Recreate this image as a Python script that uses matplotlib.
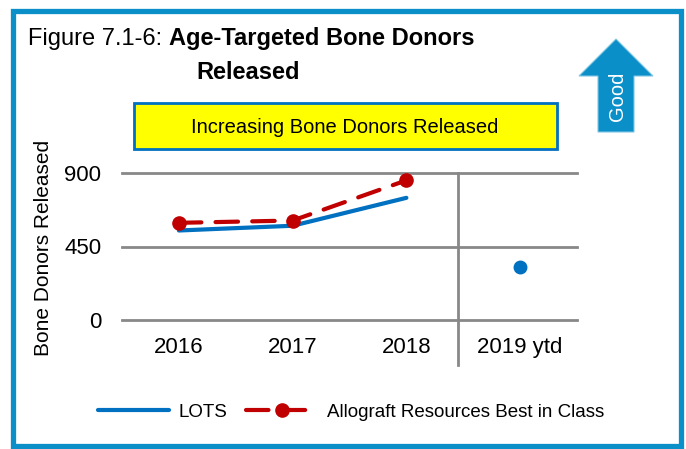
import matplotlib
matplotlib.use("Agg")
import matplotlib.pyplot as plt
from matplotlib.patches import Rectangle, Polygon
from matplotlib import font_manager

# font: narrow Arial look-alike if present
names = {f.name for f in font_manager.fontManager.ttflist}
NARROW = 'Liberation Sans Narrow' if 'Liberation Sans Narrow' in names else 'Liberation Sans'
plt.rcParams['font.family'] = [NARROW, 'DejaVu Sans']

W, H = 686, 449

# data
categories = ['2016', '2017', '2018', '2019 ytd']
lots_years = [0, 1, 2]
lots_values = [548, 577, 748]
lots_ytd = [327]
best_values = [595, 609, 855]

BLUE = '#0070C0'
RED = '#C00000'
FRAME = '#0A8FC8'
GRID = '#888888'


def fx(x):
    return x / W


def fy(y):
    return 1 - y / H


fig = plt.figure(figsize=(W / 100, H / 100), dpi=100)

# outer frame
fig.patches.append(Rectangle((fx(12.5), fy(445.5)), fx(668), 435 / H,
                             transform=fig.transFigure, fill=False, edgecolor=FRAME, lw=3.8))

ax = fig.add_axes([fx(122), fy(320), fx(455), (320 - 173) / H])

ax.plot(lots_years, lots_values, color=BLUE, lw=3.0, solid_capstyle='round', label='LOTS', zorder=3)
ax.plot([3], lots_ytd, 'o', color=BLUE, ms=9, zorder=3)
ax.plot(lots_years, best_values, color=RED, lw=3.0, dashes=(5.4, 3.4), dash_capstyle='round',
        marker='o', ms=9.5, label='Allograft Resources Best in Class', zorder=4)

ax.set_xlim(-0.5, 3.5)
ax.set_ylim(0, 900)
ax.set_yticks([0, 450, 900])
ax.set_xticks(range(len(categories)))
ax.set_xticklabels(categories)
ax.tick_params(axis='y', length=0, pad=15, labelsize=16)
ax.tick_params(axis='x', length=0, pad=12, labelsize=16)
for s in ax.spines.values():
    s.set_visible(False)
ax.grid(axis='y', color=GRID, lw=2.0)
ax.set_axisbelow(True)
for ln in ax.get_ygridlines():
    ln.set_clip_on(False)

# separator before ytd
ax.plot([2.45, 2.45], [1, -0.306], color=GRID, lw=2.0, transform=ax.get_xaxis_transform(),
        clip_on=False, zorder=1)

fig.text(fx(44), fy(248), 'Bone Donors Released', rotation=90, ha='center', va='center', fontsize=15)

# title
t1 = fig.text(fx(28), fy(45), 'Figure 7.1-6: ', fontsize=17, ha='left', va='baseline')
fig.canvas.draw()
bb = t1.get_window_extent()
fig.text(bb.x1 / W, fy(45), 'Age-Targeted Bone Donors', fontsize=17, fontweight='bold',
         ha='left', va='baseline')
fig.text(fx(248), fy(79), 'Released', fontsize=17, fontweight='bold', ha='center', va='baseline')

# yellow banner
fig.patches.append(Rectangle((fx(134), fy(149)), fx(557 - 134), (149 - 103) / H,
                             transform=fig.transFigure, facecolor='#FFFF00', edgecolor=BLUE, lw=2))
fig.text(fx(345), fy(127), 'Increasing Bone Donors Released', fontsize=14.5, ha='center', va='center')

# "Good" arrow
arrow = [(616, 39), (653, 76), (634, 76), (634, 132), (598, 132), (598, 76), (579, 76)]
fig.patches.append(Polygon([(fx(x), fy(y)) for x, y in arrow], closed=True,
                           transform=fig.transFigure, facecolor=FRAME, edgecolor='#7FC6E4', lw=0.8))
fig.text(fx(617), fy(96), 'Good', rotation=90, ha='center', va='center', color='white',
         fontsize=14.5, family=['Liberation Sans', 'DejaVu Sans'])

fig.legend(loc='center', bbox_to_anchor=(fx(351), fy(412)), ncol=2, frameon=False, fontsize=13.5,
           handlelength=3.8, handletextpad=0.5, columnspacing=1.0)

fig.savefig('out.png', dpi=100)
